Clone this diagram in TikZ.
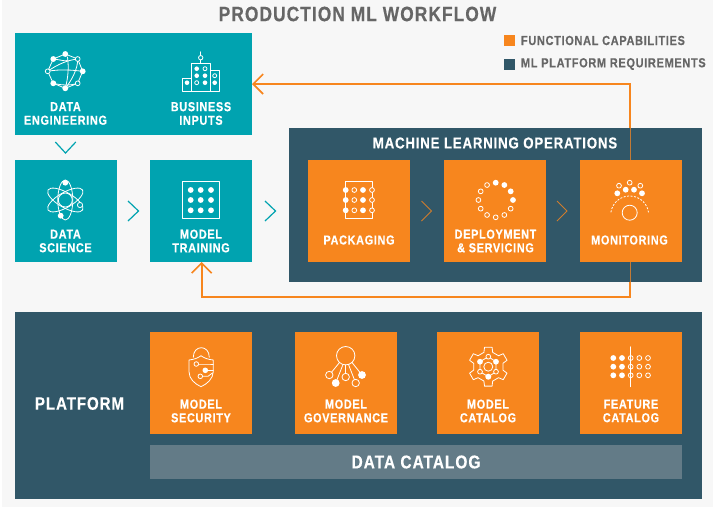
\documentclass[tikz,border=0pt]{standalone}
\usepackage{fontspec}
\usetikzlibrary{arrows.meta}
\newfontfamily\lblf[FakeStretch=0.84,LetterSpace=5,FakeBold=0.35]{Liberation Sans}
\definecolor{teal}{HTML}{00A3B0}
\definecolor{slate}{HTML}{315768}
\definecolor{amber}{HTML}{F7861E}
\definecolor{mist}{HTML}{637B87}
\definecolor{paper}{HTML}{F7F7F7}
\definecolor{ink}{HTML}{666666}
\definecolor{dimamber}{HTML}{C47A35}
\tikzset{
  x=1pt,y=-1pt,
  box/.style={draw=none,inner sep=0pt,outer sep=0pt,anchor=north west},
  card/.style={box,minimum width=102pt,minimum height=102pt},
  lbl/.style={inner sep=0pt,outer sep=0pt,align=center,text=white,font=\lblf\bfseries\fontsize{13}{13.6}\selectfont},
  head/.style={inner sep=0pt,outer sep=0pt,text=white,font=\lblf\bfseries\fontsize{15.8}{16}\selectfont},
  big/.style={inner sep=0pt,outer sep=0pt,text=white,font=\lblf\bfseries\fontsize{18.5}{19}\selectfont},
  legendtxt/.style={inner sep=0pt,outer sep=0pt,anchor=west,text=ink,font=\lblf\bfseries\fontsize{13.1}{13.5}\selectfont},
  icon/.style={draw=white,line width=0.8pt,line join=round,line cap=round},
  flow/.style={draw=amber,line width=1.6pt,-{Straight Barb[length=10pt,width=20pt,line width=1.6pt]}},
  chev/.style={line width=1.2pt,line join=miter},
}
\newcommand{\icF}[3][2.9]{\fill[white] (#2,#3) circle[radius=#1pt];}
\newcommand{\icH}[3][2.4]{\draw[icon] (#2,#3) circle[radius=#1pt];}
\newcommand{\icO}[3][2.4]{\draw[icon,fill=amber] (#2,#3) circle[radius=#1pt];}
\newcommand{\icT}[3][2.4]{\draw[icon,fill=teal] (#2,#3) circle[radius=#1pt];}
\begin{document}
\begin{tikzpicture}
\useasboundingbox (0,0) rectangle (713,507);
\fill[white] (0,0) rectangle (713,507);
\fill[paper] (2,0) rectangle (713,507);

% title and legend
\node[inner sep=0pt,text=ink,font=\lblf\bfseries\fontsize{20.7}{22}\selectfont] (title) at (357.5,14) {PRODUCTION ML WORKFLOW};
\node[box,fill=amber,minimum width=11pt,minimum height=11pt] (legA) at (504,35) {};
\node[box,fill=slate,minimum width=11pt,minimum height=11pt] (legB) at (504,59) {};
\node[legendtxt] (legAt) at (521,40.5) {FUNCTIONAL CAPABILITIES};
\node[legendtxt] (legBt) at (521,64) {ML PLATFORM REQUIREMENTS};

% teal boxes
\node[box,fill=teal,minimum width=237pt,minimum height=102pt] (top) at (15,33) {};
\node[card,fill=teal] (ds) at (15,160) {};
\node[card,fill=teal] (mt) at (150,160) {};
\node[lbl] (deL) at (65.5,113.5) {DATA\\ENGINEERING};
\node[lbl] (biL) at (201,113.5) {BUSINESS\\INPUTS};
\node[lbl] (dsL) at (65.5,241) {DATA\\SCIENCE};
\node[lbl] (mtL) at (201,241) {MODEL\\TRAINING};

% operations panel
\node[box,minimum width=100pt,minimum height=102pt] (mon0) at (580,160) {};
\draw[flow] (mon0.north) |- (top.east);
\draw[flow] (mon0.south) -- ++(0,35) -| ([xshift=0.7pt]mt.south);
\node[box,fill=slate,minimum width=413pt,minimum height=154pt] (ops) at (289,128) {};
\draw[dimamber,line width=1pt] (mon0.north) -- (mon0.north |- ops.north);
\draw[dimamber,line width=1pt] (mon0.south) -- (mon0.south |- ops.south);
\node[head] (opsL) at (495,143) {MACHINE LEARNING OPERATIONS};
\node[card,fill=amber] (pk) at (308,160) {};
\node[card,fill=amber] (dp) at (444,160) {};
\node[card,fill=amber,minimum width=101.5pt] (mon) at (580,160) {};
\node[lbl] (pkL) at (359,240) {PACKAGING};
\node[lbl] (dpL) at (495.5,241) {DEPLOYMENT\\\& SERVICING};
\node[lbl] (monL) at (629.5,240) {MONITORING};

% platform panel
\node[box,fill=slate,minimum width=687pt,minimum height=187pt] (plat) at (15,312) {};
\node[big,font=\lblf\bfseries\fontsize{18}{19}\selectfont] (platL) at (79.5,403.5) {PLATFORM};
\node[card,fill=amber] (ms) at (150,332) {};
\node[card,fill=amber] (mg) at (295,332) {};
\node[card,fill=amber] (mc) at (437,332) {};
\node[card,fill=amber] (fc) at (580,332) {};
\node[lbl] (msL) at (201,411) {MODEL\\SECURITY};
\node[lbl] (mgL) at (346,411) {MODEL\\GOVERNANCE};
\node[lbl] (mcL) at (488,411) {MODEL\\CATALOG};
\node[lbl] (fcL) at (631,411) {FEATURE\\CATALOG};
\node[box,fill=mist,minimum width=532pt,minimum height=34pt] (dc) at (150,445) {};
\node[big] (dcL) at (dc.center) {DATA CATALOG};

% chevrons
\draw[teal,chev] (55.3,142) -- (65.5,153) -- (75.8,142);
\draw[teal,chev] (128,201) -- (138.5,211) -- (128,221);
\draw[teal,chev] (265,201) -- (275.5,211) -- (265,221);
\draw[amber!80!slate,chev,line width=1pt] (421.5,201) -- (431.5,211) -- (421.5,221);
\draw[amber!80!slate,chev,line width=1pt] (557,201) -- (567,211) -- (557,221);

% icon: data engineering
\draw[icon] (65.3,54) -- (77.7,59) -- (82.7,71.3) -- (77.7,83.3) -- (65.3,88.3) -- (53.3,83.3) -- (47.7,71.3) -- (53.3,59) -- cycle;
\draw[icon] (47.7,71.3) .. controls (58,64) and (68,60) .. (77.7,59);
\draw[icon] (47.7,71.3) .. controls (60,69) and (72,70) .. (82.7,71.3);
\draw[icon] (53.3,59) .. controls (62,60) and (67,62) .. (67.5,60);
\draw[icon] (67.5,57) .. controls (69,68) and (68,78) .. (65.3,88.3);
\draw[icon] (77.7,59) .. controls (78,68) and (72,80) .. (65.3,88.3);
\draw[icon] (53.3,83.3) .. controls (60,85) and (70,86) .. (77.7,83.3);
\icF{65.3}{54}\icT{77.7}{59}\icF{82.7}{71.3}\icT{77.7}{83.3}\icF{65.3}{88.3}\icF{53.3}{83.3}\icT{47.7}{71.3}\icF{53.3}{59}

% icon: business inputs
\draw[icon] (191.7,91) rectangle (210.3,63.3);
\draw[icon] (182.3,91) rectangle (191.7,78.3);
\draw[icon] (210.3,91) rectangle (219.3,70.7);
\draw[icon] (200.7,51.7) -- (200.7,63.3);
\icT[2.2]{200.7}{57.7}
\icF[2.3]{196.7}{68.7}\icH[2]{205}{68.7}
\icF[2.3]{196.7}{75.7}\icF[2.3]{205}{75.7}
\icH[2]{196.7}{82.7}\icF[2.3]{205}{82.7}
\icF[2.3]{187}{82.7}\icH[2]{214.7}{75.7}\icF[2.3]{214.7}{82.7}

% icon: data science
\foreach \r in {30,-30,90}{\draw[icon,rotate around={\r:(65.3,200)}] (65.3,200) ellipse[x radius=20pt,y radius=7.5pt];}
\draw[icon] (65.3,200) circle[radius=7pt];
\icF{65.3}{182.7}\icF{60.7}{215.7}\icT[2.6]{80}{205}

% icon: model training
\draw[icon] (182.3,181.3) rectangle (219.7,218.7);
\foreach \px in {190.7,200.7,211}{\foreach \py in {190,200,210.3}{\icF{\px}{\py}}}

% icon: packaging
\draw[icon] (345.7,181.7) -- (372,181.7) -- (372,218.3) -- (345.7,218.3) -- cycle;
\foreach \py in {190,200,210.3}{\icF{345.7}{\py}\icO{354.3}{\py}\icF{363}{\py}\icO{372}{\py}}

% icon: deployment
\foreach \a in {90,60,30,0}{\fill[white] ([shift={(495.7,200)}]\a:17.3pt) circle[radius=2.9pt];}
\foreach \a in {-30,-60,-90,-120,-150,-180,-210,-240}{\draw[icon] ([shift={(495.7,200)}]\a:17.3pt) circle[radius=2.4pt];}

% icon: monitoring
\icH{619}{185.7}\icH{629.7}{182.7}\icH{640.3}{185.7}
\icF{617.3}{193.3}\icF{625.7}{189.7}\icF{634}{189.7}\icF{642}{193.3}
\draw[icon,line cap=butt,dash pattern=on 2pt off 1.5pt] ([shift={(629.7,215)}]172:19pt) arc[start angle=172,end angle=8,radius=19pt];
\draw[icon] (629.7,212.7) circle[radius=7.5pt];

% icon: model security
\draw[icon] (193.3,357.3) .. controls (193.3,344.5) and (209.3,344.5) .. (209.3,357.3);
\draw[icon] (189,360) .. controls (194,359.5) and (198,358) .. (201,355.7) .. controls (204,358) and (208,359.5) .. (213.3,360) -- (213.3,371.7) .. controls (213,379) and (207,384) .. (201,386.7) .. controls (195,384) and (189,379) .. (189,371.7) -- cycle;
\draw[icon] (198.6,364) -- (208,364) -- (213.3,364);
\draw[icon] (205.3,370.3) -- (213.3,370.3);
\draw[icon] (202.6,376.3) -- (208,376.3) -- (212.5,373);
\icH[2.3]{196.3}{364}\icF[2.8]{205.3}{370.3}\icH[2.3]{200.3}{376.3}

% icon: model governance
\draw[icon] (345.7,355.7) circle[radius=9.2pt];
\draw[icon] (339.5,362.5) -- (329.3,375);
\draw[icon] (343,364.5) -- (335.7,383);
\draw[icon] (345.7,365) -- (345.7,377);
\draw[icon] (348.5,364.5) -- (355.7,383);
\draw[icon] (352,362.5) -- (362,375);
\icO[3.7]{329.3}{375}\icF[3.9]{335.7}{383}\icO[3.7]{345.7}{377}\icO[3.7]{355.7}{383}\icF[3.9]{362}{375}

% icon: model catalog
\draw[icon,shift={(488.3,366.7)}] (107:15pt) foreach \a in {90,30,-30,-90,-150,-210} { -- (\a+17:15pt) -- (\a+11:19.8pt) -- (\a-11:19.8pt) -- (\a-17:15pt) } -- cycle;
\draw[icon] (488.3,356.7) -- (496,361.7) -- (496,371.7) -- (488.3,376.7) -- (480,371.7) -- (480,361.7) -- cycle;
\icO[4.5]{488.3}{366.7}
\icF{480}{361.7}\icF{496}{361.7}\icF[3]{488.3}{376.7}
\icO{488.3}{356.7}\icO{480}{371.7}\icO{496}{371.7}

% icon: feature catalog
\foreach \py in {358,366.7,375.3}{\icF{613.3}{\py}\icF{622}{\py}\icH{630.7}{\py}\icH{639.3}{\py}\icH{648}{\py}}
\draw[icon] (630.7,346.7) -- (630.7,386.7);
\end{tikzpicture}
\end{document}
